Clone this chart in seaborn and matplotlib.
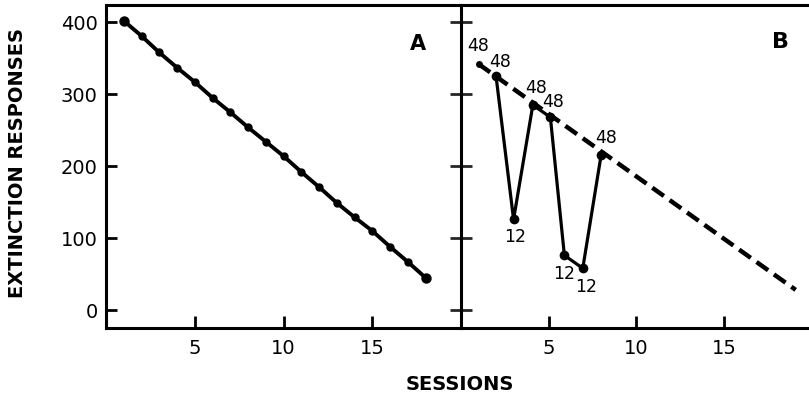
import matplotlib
matplotlib.use("Agg")
import matplotlib.pyplot as plt
import seaborn as sns
import pandas as pd

# ---- data ----
sessions_a = list(range(1, 19))
responses_a = [402, 381, 358, 337, 317, 295, 275, 254, 234, 214, 192, 171,
               149, 129, 110, 88, 67, 45]

sessions_b = [1, 2, 3, 4.1, 5.1, 5.9, 6.95, 8]
responses_b = [342, 325, 126, 285, 268, 76, 58, 216]
labels_b = ["48", "48", "12", "48", "48", "12", "12", "48"]

trend_x = [1, 19.1]
trend_y = [342, 28]

yticks = [0, 100, 200, 300, 400]
xticks = [5, 10, 15]

sns.set_style("white")
plt.rcParams["font.family"] = ["DejaVu Sans"]
plt.rcParams["text.color"] = "black"
plt.rcParams["axes.labelcolor"] = "black"
narrow = ["DejaVu Sans Condensed", "Liberation Sans Narrow", "DejaVu Sans"]

fig = plt.figure(figsize=(8.09, 3.98), dpi=100)
axA = fig.add_axes([106 / 809, 1 - 328 / 398, (461 - 106) / 809, (328 - 5) / 398])
axB = fig.add_axes([461 / 809, 1 - 328 / 398, (809 - 461) / 809, (328 - 5) / 398])

dfA = pd.DataFrame({"s": sessions_a, "r": responses_a})
sns.lineplot(data=dfA, x="s", y="r", ax=axA, color="black", lw=2.8,
             marker="o", markersize=6, markeredgewidth=0)
axA.plot([sessions_a[0], sessions_a[-1]], [responses_a[0], responses_a[-1]],
         "o", color="black", ms=7.5, mew=0)

dfT = pd.DataFrame({"s": trend_x, "r": trend_y})
sns.lineplot(data=dfT, x="s", y="r", ax=axB, color="black", lw=3.2,
             dashes=False, linestyle=(0, (3.2, 1.6)))
dfB = pd.DataFrame({"s": sessions_b[1:], "r": responses_b[1:]})
sns.lineplot(data=dfB, x="s", y="r", ax=axB, color="black", lw=2.3,
             marker="o", markersize=7, markeredgewidth=0)
axB.plot(sessions_b[0], responses_b[0], "o", color="black", ms=5, mew=0)

offsets = [(0, 18), (4, 14), (2, -18), (3, 17), (3, 15), (0, -19), (3, -19), (5, 17)]
for x, y, lab, (dx, dy) in zip(sessions_b, responses_b, labels_b, offsets):
    axB.annotate(lab, (x, y), xytext=(dx, dy), textcoords="offset pixels",
                 ha="center", va="center", fontsize=12.5, color="black",
                 family=narrow)

for ax in (axA, axB):
    ax.set_ylim(-25, 424)
    ax.set_xticks(xticks)
    ax.set_yticks(yticks)
    ax.set_xlabel("")
    ax.set_ylabel("")
    for sp in ax.spines.values():
        sp.set_linewidth(2.2)
        sp.set_color("black")
    ax.tick_params(axis="x", direction="in", length=9, width=2, pad=8,
                   labelsize=14, colors="black", bottom=True)
    ax.set_facecolor("white")

axA.set_xlim(0, 20)
axB.set_xlim(0, 19.86)
axA.spines["right"].set_visible(False)
axB.spines["right"].set_visible(False)
axA.tick_params(axis="y", direction="in", length=8, width=2, pad=6,
                labelsize=14, colors="black", left=True)
axB.tick_params(axis="y", direction="inout", length=16, width=2,
                labelleft=False, left=True)

axA.text(0.878, 0.88, "A", transform=axA.transAxes, ha="center", va="center",
         fontsize=15, fontweight="bold", family=narrow)
axB.text(0.918, 0.885, "B", transform=axB.transAxes, ha="center", va="center",
         fontsize=16, fontweight="bold", family=narrow)

fig.text(18 / 809, 1 - 163 / 398, "EXTINCTION RESPONSES", rotation=90,
         ha="center", va="center", fontsize=14, fontweight="bold", family=narrow)
fig.text(460 / 809, 1 - 385 / 398, "SESSIONS", ha="center", va="center",
         fontsize=14, fontweight="bold", family=narrow)

fig.savefig("out.png", dpi=100, facecolor="white")
